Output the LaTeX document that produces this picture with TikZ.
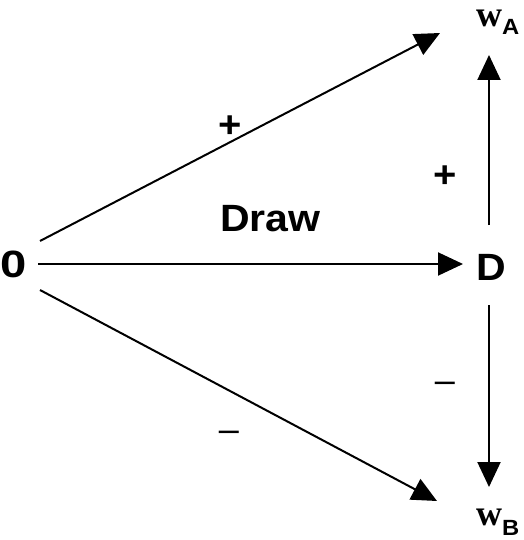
\documentclass[tikz,border=0pt]{standalone}
\usepackage{fontspec}
\setmainfont[FakeStretch=1.08]{Liberation Sans}
\newfontfamily\wfont{Liberation Serif}
\newfontfamily\dashfont{Liberation Sans}
\usetikzlibrary{arrows.meta}
\begin{document}
\begin{tikzpicture}[x=1pt,y=-1pt,line width=2pt,
  arr/.style={-{Triangle[length=25pt,width=23pt]}},
  big/.style={font=\fontsize{38}{38}\selectfont\bfseries,inner sep=0pt,anchor=base west},
  sgn/.style={font=\fontsize{37}{37}\selectfont\bfseries,inner sep=0pt,anchor=base},
  dsh/.style={font=\fontsize{36}{36}\selectfont\dashfont,inner sep=0pt,anchor=base},
  wlab/.style={inner sep=0pt,anchor=base west}]
\useasboundingbox (0,0) rectangle (523,540);
% nodes
\node[big] (zero) at (0,277) {\scalebox{1.15}[1]{0}};
\node[big] (D) at (475,280) {D};
\node[big] (draw) at (219,231) {Draw};
\node[wlab] (wA) at (475,27) {{\fontsize{36}{36}\selectfont\wfont\bfseries w}\raisebox{-8pt}{\fontsize{22}{22}\selectfont\bfseries A}};
\node[wlab] (wB) at (475,525) {{\fontsize{36}{36}\selectfont\wfont\bfseries w}\raisebox{-10pt}{\fontsize{22}{22}\selectfont\bfseries B}};
\node[sgn] (pu) at (230,138) {+};
\node[sgn] (pr) at (445,187) {+};
\node[dsh] (ml) at (229,441) {–};
\node[dsh] (mr) at (445,392) {–};
% connector ends
\coordinate (s1) at (40,241);
\coordinate (t1) at (440,33);
\coordinate (s2) at (38,264);
\coordinate (t2) at (463,264);
\coordinate (s3) at (40,290);
\coordinate (t3) at (437,501);
\coordinate (u1) at (489,225);
\coordinate (u2) at (489,55);
\coordinate (d1) at (489,305);
\coordinate (d2) at (489,487);
\draw[arr] (s1) -- (t1);
\draw[arr] (s2) -- (t2);
\draw[arr] (s3) -- (t3);
\draw[arr] (u1) -- (u2);
\draw[arr] (d1) -- (d2);
\end{tikzpicture}
\end{document}
